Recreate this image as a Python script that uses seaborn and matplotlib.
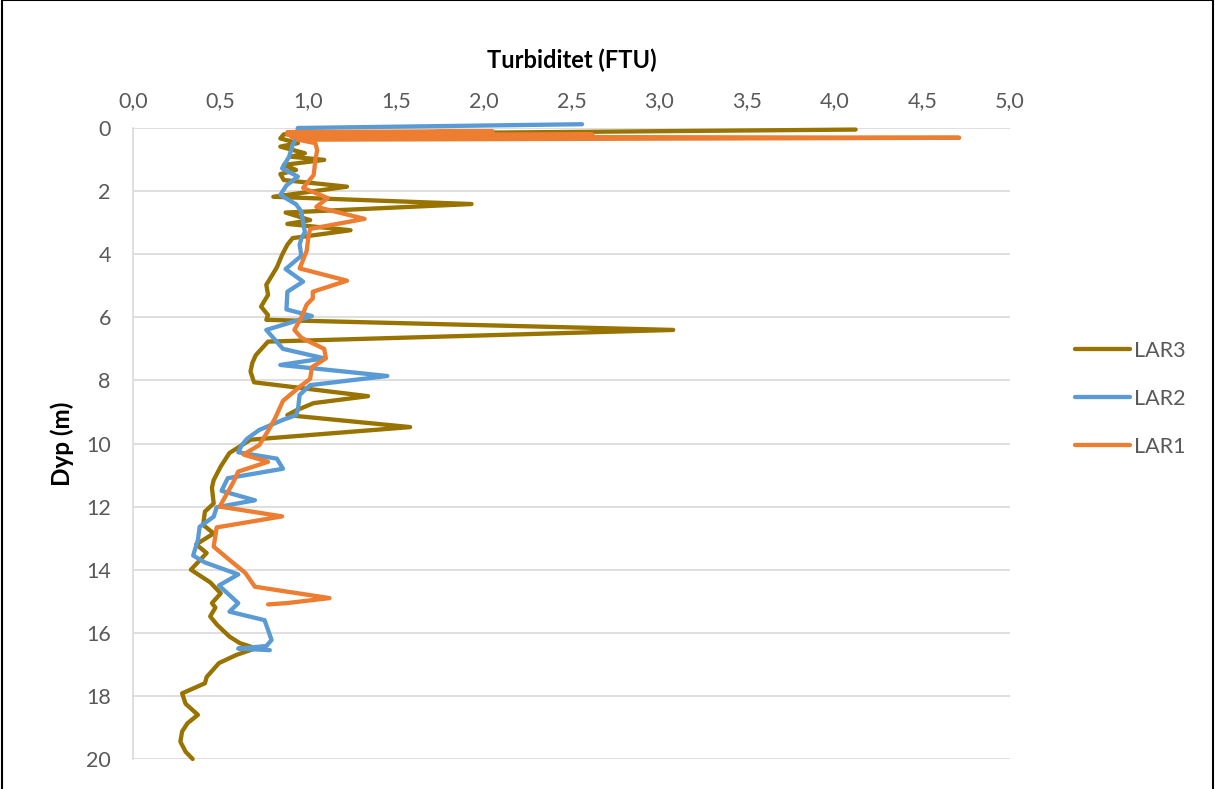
import matplotlib
matplotlib.use("Agg")
import matplotlib.pyplot as plt
from matplotlib.patches import Rectangle
from matplotlib.lines import Line2D
from matplotlib.ticker import FuncFormatter
import seaborn as sns
import pandas as pd

# ---------------- data ----------------
series_names = ["LAR3", "LAR2", "LAR1"]
series_colors = ["#997300", "#5B9BD5", "#ED7D31"]

lar3_depth = [0.05, 0.2, 0.33, 0.48, 0.59, 0.8, 0.91, 1.01, 1.17, 1.33, 1.46, 1.65, 1.86, 2.18, 2.41,
              2.68, 2.92, 3.04, 3.24, 3.49, 3.7, 4.02, 4.42, 4.97, 5.29, 5.66, 5.93, 6.08, 6.40, 6.77,
              7.2, 7.45, 7.72, 8.06, 8.5, 8.72, 8.95, 9.1, 9.48, 9.88, 10.3, 10.73, 11.16, 11.4, 11.9,
              12.16, 12.58, 12.85, 13.2, 13.47, 14.0, 14.4, 14.75, 15.06, 15.2, 15.48, 15.75, 16.12,
              16.33, 16.49, 16.7, 16.96, 17.4, 17.6, 17.92, 18.25, 18.6, 18.87, 19.13, 19.45, 19.77, 20.0]
lar3_turb = [4.12, 0.86, 0.84, 0.94, 0.84, 0.98, 0.90, 1.09, 0.86, 0.93, 0.84, 0.86, 1.22, 0.80, 1.93,
             0.87, 1.01, 0.88, 1.24, 0.91, 0.88, 0.85, 0.82, 0.76, 0.77, 0.73, 0.77, 0.76, 3.08, 0.77,
             0.70, 0.68, 0.67, 0.69, 1.34, 1.03, 0.93, 0.88, 1.58, 0.67, 0.55, 0.50, 0.46, 0.45, 0.46,
             0.41, 0.40, 0.46, 0.36, 0.42, 0.33, 0.44, 0.50, 0.45, 0.47, 0.44, 0.48, 0.55,
             0.61, 0.70, 0.59, 0.49, 0.42, 0.41, 0.28, 0.30, 0.37, 0.31, 0.28, 0.27, 0.30, 0.34]

lar2_depth = [-0.12, 0.0, 0.33, 0.54, 0.91, 1.28, 1.54, 1.82, 2.12, 2.42, 2.65, 3.0, 3.3, 3.5, 3.7,
              4.05, 4.47, 4.87, 5.19, 5.75, 5.96, 6.4, 7.0, 7.3, 7.51, 7.86, 8.15, 8.46, 8.94, 9.1,
              9.25, 9.57, 9.85, 10.05, 10.28, 10.48, 10.8, 11.1, 11.5, 11.8, 12.02, 12.32, 12.64,
              13.06, 13.55, 13.77, 14.15, 14.5, 15.06, 15.33, 15.6, 15.91, 16.23, 16.42, 16.5, 16.55]
lar2_turb = [2.56, 0.94, 0.93, 0.91, 0.89, 0.85, 0.94, 0.875, 0.84, 0.93, 0.96, 0.97, 0.98, 0.96, 0.95,
             0.96, 0.87, 0.97, 0.88, 0.875, 1.02, 0.76, 0.855, 1.09, 0.84, 1.45, 1.01, 0.95, 0.94, 0.93,
             0.855, 0.72, 0.65, 0.62, 0.60, 0.82, 0.855, 0.54, 0.505, 0.695, 0.477, 0.46, 0.38,
             0.37, 0.343, 0.41, 0.60, 0.49, 0.60, 0.55, 0.75, 0.77, 0.79, 0.76, 0.60, 0.78]

lar1_depth = [0.13, 0.10, 0.20, 0.21, 0.27, 0.31, 0.37, 0.48, 0.7, 1.01, 1.49, 1.9, 2.22, 2.5,
              2.88, 3.2, 3.45, 3.9, 4.45, 4.84, 5.19, 5.4, 5.6, 6.0, 6.4, 6.65, 7.0, 7.3, 7.58, 7.95,
              8.25, 8.65, 9.2, 9.6, 10.05, 10.35, 10.58, 10.89, 11.25, 11.84, 12.0, 12.31, 12.66,
              13.27, 13.69, 14.1, 14.54, 14.9, 15.06, 15.1]
lar1_turb = [0.88, 2.05, 0.88, 2.62, 0.90, 4.71, 0.94, 1.04, 1.05, 1.04, 1.03, 0.97, 1.11, 1.045,
             1.32, 1.01, 1.0, 0.99, 0.95, 1.22, 1.025, 1.025, 0.99, 0.96, 0.92, 0.96, 1.09, 1.10, 1.02,
             1.01, 0.94, 0.855, 0.81, 0.77, 0.72, 0.63, 0.77, 0.60, 0.57, 0.51, 0.495, 0.85, 0.477,
             0.46, 0.55, 0.64, 0.695, 1.12, 0.875, 0.77]

x_ticks = [0.0, 0.5, 1.0, 1.5, 2.0, 2.5, 3.0, 3.5, 4.0, 4.5, 5.0]
y_ticks = [0, 2, 4, 6, 8, 10, 12, 14, 16, 18, 20]
x_title = "Turbiditet (FTU)"
y_title = "Dyp (m)"

# ---------------- build long frame ----------------
frames = []
for name, d, t in [("LAR3", lar3_depth, lar3_turb), ("LAR2", lar2_depth, lar2_turb), ("LAR1", lar1_depth, lar1_turb)]:
    frames.append(pd.DataFrame({"series": name, "depth": d, "turb": t}))
df = pd.concat(frames, ignore_index=True)

sns.set_theme(style="white")
plt.rcParams["font.family"] = ["Lato", "DejaVu Sans"]

fig = plt.figure(figsize=(12.15, 7.89), dpi=100)
ax = fig.add_axes([133 / 1215, 1 - 759 / 789, (1010 - 133) / 1215, (759 - 128) / 789])

LW = 3.1
palette = dict(zip(series_names, series_colors))
sns.lineplot(data=df, x="turb", y="depth", hue="series", hue_order=series_names, palette=palette,
             sort=False, estimator=None, units="series", lw=LW, ax=ax, legend=False, zorder=3)
for ln in ax.get_lines():
    ln.set_clip_on(False)
    ln.set_solid_joinstyle("round")
    ln.set_solid_capstyle("round")

ax.set_xlim(0, 5)
ax.set_ylim(20, 0)
ax.set_xticks(x_ticks)
ax.set_yticks(y_ticks)
ax.xaxis.set_major_formatter(FuncFormatter(lambda v, p: f"{v:.1f}".replace(".", ",")))
ax.xaxis.tick_top()
ax.xaxis.set_label_position("top")
ax.tick_params(axis="both", length=0, colors="#595959", labelsize=15.5)
ax.tick_params(axis="x", pad=12)
ax.tick_params(axis="y", pad=16)

ax.grid(axis="y", color="#D9D9D9", lw=1.2)
ax.grid(axis="x", visible=False)
for s in ["top", "right", "bottom"]:
    ax.spines[s].set_visible(False)
ax.spines["left"].set_color("#D9D9D9")
ax.spines["left"].set_linewidth(1.2)

ax.set_xlabel(x_title, fontsize=17, fontweight="bold", color="black")
ax.xaxis.set_label_coords(0.5, 1 + (128 - 60) / 631)
ax.xaxis.label.set_va("center")
ax.set_ylabel(y_title, fontsize=17.5, fontweight="bold", color="black")
ax.yaxis.set_label_coords((62 - 133) / 877, 0.5)
ax.yaxis.label.set_va("center")

handles = [Line2D([0], [0], color=c, lw=LW, solid_capstyle="round") for c in series_colors]
fig.legend(handles, series_names, loc="center left", bbox_to_anchor=(1056 / 1215, 1 - 399 / 789),
           frameon=False, fontsize=15.5, handlelength=2.55, handletextpad=0.15, labelspacing=1.3,
           labelcolor="#595959")

fig.patches.append(Rectangle((0.002, -0.02), 0.9965, 1.0195, transform=fig.transFigure,
                             fill=False, ec="black", lw=1.5))

fig.savefig("out.png", dpi=100)
